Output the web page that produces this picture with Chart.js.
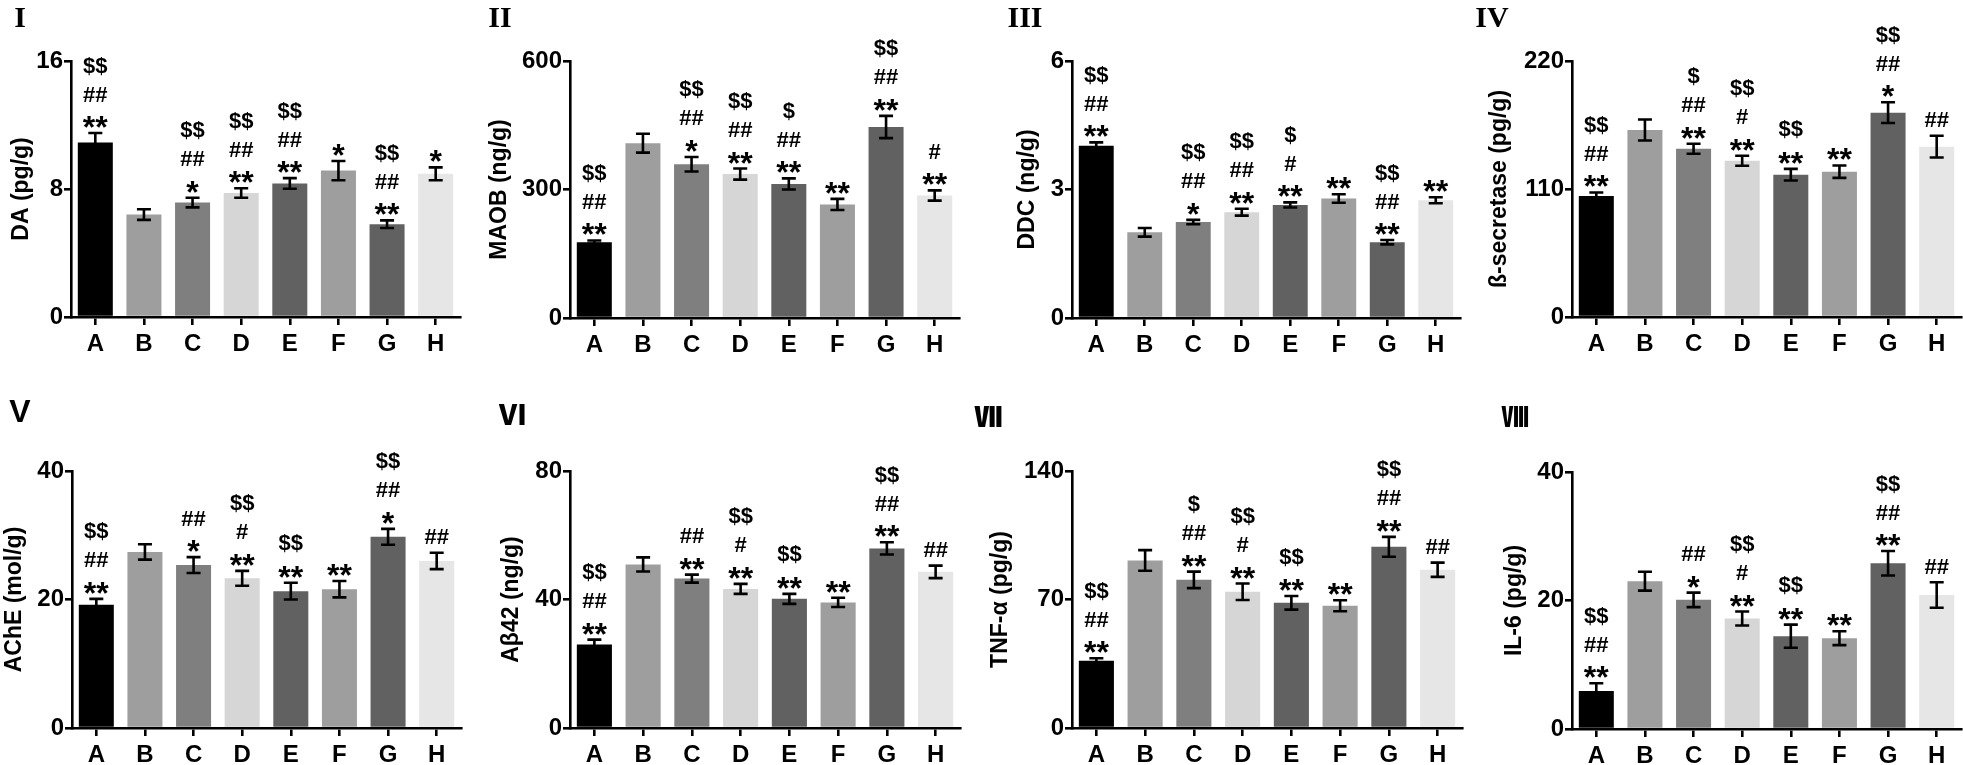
<!DOCTYPE html>
<html>
<head>
<meta charset="utf-8">
<script src="https://cdn.jsdelivr.net/npm/chart.js@4.4.0/dist/chart.umd.min.js"></script>
<style>
html, body { margin: 0; padding: 0; background: #fff; }
body { width: 1963px; height: 765px; position: relative; overflow: hidden; font-family: "Liberation Sans", Arial, sans-serif; }
.panel { position: absolute; }
.tag { position: absolute; font-weight: bold; line-height: 1; transform: translate(-50%, -50%); color: #000; white-space: nowrap; }
.serif { font-family: "Liberation Serif", "Times New Roman", serif; font-size: 30px; }
.sans { font-family: "Liberation Sans", Arial, sans-serif; font-size: 32px; }
.cjk { font-family: "Noto Sans CJK SC", sans-serif; font-weight: 900; font-size: 28px; }
</style>
</head>
<body>
<script>
// Groups and bar fills
const groups = ['A', 'B', 'C', 'D', 'E', 'F', 'G', 'H'];
const barColors = ['#000000', '#9e9e9e', '#7f7f7f', '#d6d6d6', '#616161', '#9e9e9e', '#616161', '#e6e6e6'];

// I - DA
const daMean = [10.9, 6.4, 7.15, 7.75, 8.35, 9.15, 5.8, 8.95];
const daErr = [0.6, 0.33, 0.3, 0.3, 0.33, 0.6, 0.24, 0.4];
const daSig = [['**', '##', '$$'], [], ['*', '##', '$$'], ['**', '##', '$$'], ['**', '##', '$$'], ['*'], ['**', '##', '$$'], ['*']];

// II - MAOB
const maobMean = [177, 408, 359, 336, 313, 265, 446, 286];
const maobErr = [4, 22, 17, 13, 13, 13, 26, 12];
const maobSig = [['**', '##', '$$'], [], ['*', '##', '$$'], ['**', '##', '$$'], ['**', '##', '$'], ['**'], ['**', '##', '$$'], ['**', '#']];

// III - DDC
const ddcMean = [4.02, 2.0, 2.24, 2.47, 2.64, 2.79, 1.77, 2.75];
const ddcErr = [0.08, 0.1, 0.05, 0.08, 0.06, 0.1, 0.05, 0.07];
const ddcSig = [['**', '##', '$$'], [], ['*', '##', '$$'], ['**', '##', '$$'], ['**', '#', '$'], ['**'], ['**', '##', '$$'], ['**']];

// IV - beta-secretase
const bsMean = [104, 160.7, 144.6, 134.3, 122.3, 124.9, 175.6, 146.4];
const bsErr = [3, 9, 4.3, 4.3, 5, 5.3, 8.9, 9.3];
const bsSig = [['**', '##', '$$'], [], ['**', '##', '$'], ['**', '#', '$$'], ['**', '$$'], ['**'], ['*', '##', '$$'], ['##']];

// V - AChE
const acheMean = [19.2, 27.4, 25.36, 23.3, 21.3, 21.6, 29.75, 26.0];
const acheErr = [0.9, 1.2, 1.24, 1.16, 1.3, 1.27, 1.24, 1.27];
const acheSig = [['**', '##', '$$'], [], ['*', '##'], ['**', '#', '$$'], ['**', '$$'], ['**'], ['*', '##', '$$'], ['##']];

// VI - Abeta42
const abMean = [26.0, 50.9, 46.5, 43.3, 40.2, 39.1, 55.9, 48.6];
const abErr = [1.5, 2.2, 1.25, 1.55, 1.55, 1.45, 1.9, 1.95];
const abSig = [['**', '##', '$$'], [], ['**', '##'], ['**', '#', '$$'], ['**', '$$'], ['**'], ['**', '##', '$$'], ['##']];

// VII - TNF-alpha
const tnfMean = [36.6, 91.3, 80.7, 74.2, 68.2, 66.6, 98.7, 86.2];
const tnfErr = [1.4, 5.6, 4.5, 4.5, 3.7, 3.0, 5.4, 3.9];
const tnfSig = [['**', '##', '$$'], [], ['**', '##', '$'], ['**', '#', '$$'], ['**', '$$'], ['**'], ['**', '##', '$$'], ['##']];

// VIII - IL-6
const il6Mean = [5.93, 23.0, 20.1, 17.2, 14.45, 14.14, 25.8, 20.85];
const il6Err = [1.19, 1.47, 1.13, 1.08, 1.8, 1.08, 1.9, 1.99];
const il6Sig = [['**', '##', '$$'], [], ['*', '##'], ['**', '#', '$$'], ['**', '$$'], ['**'], ['**', '##', '$$'], ['##']];

const panels = [
    { tag: 'I', tagFont: 'serif', title: 'DA (pg/g)', max: 16, mean: daMean, err: daErr, sig: daSig },
    { tag: 'II', tagFont: 'serif', title: 'MAOB (ng/g)', max: 600, mean: maobMean, err: maobErr, sig: maobSig },
    { tag: 'III', tagFont: 'serif', title: 'DDC (ng/g)', max: 6, mean: ddcMean, err: ddcErr, sig: ddcSig },
    { tag: 'IV', tagFont: 'serif', title: 'ß-secretase (pg/g)', max: 220, mean: bsMean, err: bsErr, sig: bsSig },
    { tag: 'V', tagFont: 'sans', title: 'AChE (mol/g)', max: 40, mean: acheMean, err: acheErr, sig: acheSig },
    { tag: 'Ⅵ', tagFont: 'cjk', title: 'Aβ42 (ng/g)', max: 80, mean: abMean, err: abErr, sig: abSig },
    { tag: 'Ⅶ', tagFont: 'cjk', title: 'TNF-α (pg/g)', max: 140, mean: tnfMean, err: tnfErr, sig: tnfSig },
    { tag: 'Ⅷ', tagFont: 'cjk', title: 'IL-6 (pg/g)', max: 40, mean: il6Mean, err: il6Err, sig: il6Sig }
];

// page layout of each panel (axis position, plot box, title and tag centres)
const layout = [
    { axisX: 71, right: 460, top: 61, bottom: 317, titleX: 22, tagX: 20, tagY: 17 },
    { axisX: 570, right: 959, top: 61, bottom: 318, titleX: 500, tagX: 500, tagY: 17 },
    { axisX: 1072, right: 1460, top: 61, bottom: 318, titleX: 1028, tagX: 1025, tagY: 17 },
    { axisX: 1572, right: 1961, top: 61, bottom: 317, titleX: 1500, tagX: 1492, tagY: 17 },
    { axisX: 72, right: 461, top: 471, bottom: 728, titleX: 15, tagX: 20, tagY: 411 },
    { axisX: 570, right: 960, top: 471, bottom: 728, titleX: 512, tagX: 513, tagY: 413 },
    { axisX: 1072, right: 1462, top: 471, bottom: 728, titleX: 1001, tagX: 988, tagY: 415 },
    { axisX: 1572, right: 1961, top: 472, bottom: 729, titleX: 1515, tagX: 1515, tagY: 415 }
];

const FONT = '"Liberation Sans", Arial, sans-serif';
const X_AXIS_H = 46;

// error bars + significance marks drawn over the bars
const errorBarPlugin = {
    id: 'errorBars',
    afterDatasetsDraw(chart) {
        const ctx = chart.ctx;
        const ds = chart.data.datasets[0];
        const meta = chart.getDatasetMeta(0);
        const y = chart.scales.y;
        ctx.save();
        ctx.strokeStyle = '#000';
        ctx.lineWidth = 2.6;
        ctx.fillStyle = '#000';
        ctx.textAlign = 'center';
        ctx.textBaseline = 'alphabetic';
        meta.data.forEach((bar, i) => {
            const v = ds.data[i];
            const e = ds.errors[i];
            const top = y.getPixelForValue(v + e);
            const bot = y.getPixelForValue(v - e);
            ctx.beginPath();
            ctx.moveTo(bar.x, top); ctx.lineTo(bar.x, bot);
            ctx.moveTo(bar.x - 7, top); ctx.lineTo(bar.x + 7, top);
            ctx.moveTo(bar.x - 7, bot); ctx.lineTo(bar.x + 7, bot);
            ctx.stroke();

            const marks = ds.marks[i];
            if (!marks.length) return;
            let cy = top - (marks[0].includes('*') ? 11 : 16);
            marks.forEach(s => {
                ctx.font = s.includes('*') ? 'bold 32px ' + FONT : 'bold 22px ' + FONT;
                const m = ctx.measureText(s);
                const mid = (m.actualBoundingBoxDescent - m.actualBoundingBoxAscent) / 2;
                ctx.fillText(s, bar.x, cy - mid);
                cy -= 28;
            });
        });
        ctx.restore();
    }
};

panels.forEach((p, k) => {
    const L = layout[k];
    const canvasLeft = Math.max(0, L.titleX - 20);
    const canvasTop = L.top < 300 ? 0 : 380;
    const w = L.right + 2 - canvasLeft;
    const h = L.bottom + X_AXIS_H - canvasTop;
    const yAxisW = L.axisX - canvasLeft;

    const box = document.createElement('div');
    box.className = 'panel';
    box.style.left = canvasLeft + 'px';
    box.style.top = canvasTop + 'px';
    const canvas = document.createElement('canvas');
    canvas.width = w;
    canvas.height = h;
    canvas.style.width = w + 'px';
    canvas.style.height = h + 'px';
    box.appendChild(canvas);
    document.body.appendChild(box);

    const tag = document.createElement('div');
    tag.className = 'tag ' + p.tagFont;
    tag.textContent = p.tag;
    tag.style.left = L.tagX + 'px';
    tag.style.top = L.tagY + 'px';
    document.body.appendChild(tag);

    new Chart(canvas, {
        type: 'bar',
        data: {
            labels: groups,
            datasets: [{
                data: p.mean,
                errors: p.err,
                marks: p.sig,
                backgroundColor: barColors,
                borderWidth: 0,
                barPercentage: 0.72,
                categoryPercentage: 1
            }]
        },
        options: {
            responsive: false,
            animation: false,
            devicePixelRatio: 1,
            layout: {
                padding: { top: L.top - canvasTop, right: 2, bottom: 0, left: 0 }
            },
            plugins: {
                legend: { display: false },
                tooltip: { enabled: false }
            },
            scales: {
                x: {
                    afterFit: scale => { scale.height = X_AXIS_H; },
                    grid: { display: true, drawOnChartArea: false, offset: false, tickLength: 8, color: '#000', lineWidth: 2.6 },
                    border: { display: true, color: '#000', width: 2.6 },
                    ticks: {
                        color: '#000',
                        padding: 5,
                        autoSkip: false,
                        maxRotation: 0,
                        font: { family: FONT, size: 24, weight: 'bold' }
                    }
                },
                y: {
                    min: 0,
                    max: p.max,
                    afterFit: scale => { scale.width = yAxisW; },
                    grid: { display: true, drawOnChartArea: false, tickLength: 7, color: '#000', lineWidth: 2.6 },
                    border: { display: true, color: '#000', width: 2.6 },
                    ticks: {
                        stepSize: p.max / 2,
                        color: '#000',
                        padding: 1,
                        font: { family: FONT, size: 24, weight: 'bold' }
                    },
                    title: {
                        display: true,
                        text: p.title,
                        color: '#000',
                        font: { family: FONT, size: 23, weight: 'bold', lineHeight: 1.2 },
                        padding: { top: L.titleX - canvasLeft - 13.8, bottom: 0 }
                    }
                }
            }
        },
        plugins: [errorBarPlugin]
    });
});
</script>
</body>
</html>
